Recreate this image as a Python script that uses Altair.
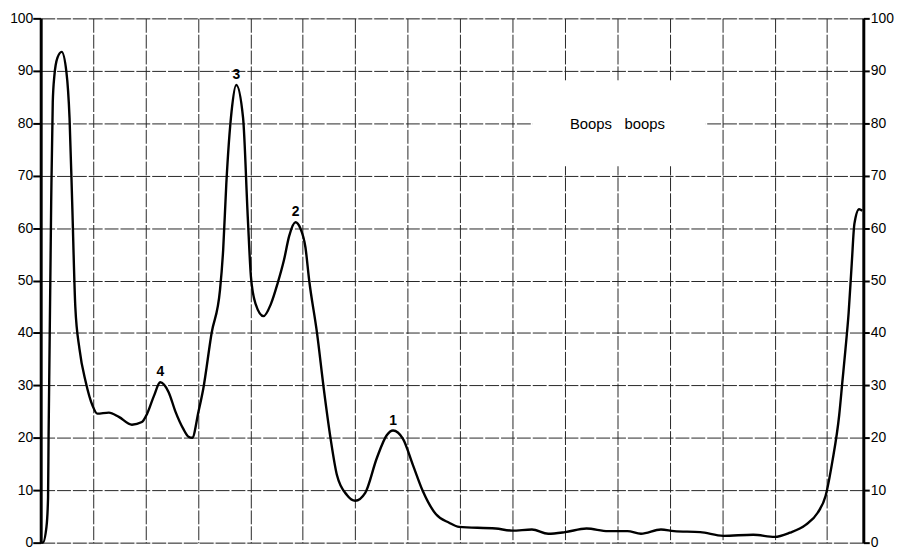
import altair as alt
import pandas as pd

# scan position (grid units) and density (%)
pos = [0.00, 0.04, 0.11, 0.14, 0.15, 0.20, 0.23, 0.26, 0.32, 0.40, 0.49, 0.55, 0.60, 0.66,
       0.74, 0.86, 0.99, 1.08, 1.30, 1.49, 1.74, 1.93, 2.03, 2.16, 2.28, 2.44, 2.57, 2.72,
       2.82, 2.89, 3.01, 3.10, 3.26, 3.42, 3.48, 3.54, 3.64, 3.73, 3.86, 3.95, 4.01, 4.10,
       4.25, 4.39, 4.52, 4.64, 4.74, 4.86, 4.95, 5.05, 5.12, 5.27, 5.40, 5.53, 5.65, 5.84,
       6.00, 6.19, 6.41, 6.60, 6.72, 6.91, 7.10, 7.29, 7.54, 7.79, 7.98, 8.68, 8.99, 9.37,
       9.68, 10.00, 10.41, 10.82, 11.19, 11.45, 11.83, 12.08, 12.58, 13.02, 13.59, 14.00,
       14.29, 14.59, 14.82, 14.97, 15.10, 15.23, 15.29, 15.35, 15.41, 15.47, 15.52, 15.61,
       15.67]
dens = [0, 0, 3, 8.5, 20, 65, 84, 89, 92.5, 93.6, 89.8, 81, 65, 45,
        36.9, 30.6, 26.1, 24.6, 24.8, 24.0, 22.5, 23.0, 24.6, 28, 30.6, 28.7, 25, 21.7,
        20.2, 20, 25, 29.3, 40, 48.2, 55.8, 68.4, 82.2, 87.3, 81, 62, 50.7, 45.5,
        43.2, 45.5, 49.5, 53.9, 58.5, 61.1, 60, 56.3, 50.1, 40, 29.3, 19.8, 12.9, 9.1,
        8.0, 9.5, 16.1, 20.5, 21.4, 19.8, 14.8, 9.8, 5.4, 3.8, 3.0, 2.7, 2.3, 2.5,
        1.7, 2.0, 2.7, 2.2, 2.2, 1.7, 2.5, 2.2, 2.0, 1.3, 1.5, 1.1,
        1.9, 3.4, 5.7, 8.9, 15.5, 24.3, 30.6, 36.9, 43.8, 53.3, 60.8, 63.6,
        63.3]

peak_labels = ["4", "3", "2", "1"]
peak_pos = [2.28, 3.73, 4.86, 6.72]
peak_val = [30.6, 87.3, 61.1, 21.4]

title_text = "Boops\u00a0\u00a0\u00a0boops"
y_ticks = [0, 10, 20, 30, 40, 50, 60, 70, 80, 90, 100]
x_grid = list(range(1, 16))

df = pd.DataFrame({"pos": pos, "dens": dens})
peaks = pd.DataFrame({"label": peak_labels, "pos": peak_pos, "dens": peak_val})
box = pd.DataFrame({"pos": [9.38], "pos2": [12.68], "dens": [87.9], "dens2": [71.8]})
title_df = pd.DataFrame({"t": [title_text], "pos": [11.0], "dens": [79.8]})

FONT = "Liberation Sans"
xs = alt.Scale(domain=[0, 15.69], nice=False, zero=False)
ys = alt.Scale(domain=[0, 100], nice=False)

GRID_COLOR = "#262626"
GRID_DASH = [14, 2]

xaxis = alt.Axis(values=x_grid, labels=False, ticks=False, domain=False, grid=True,
                 gridColor=GRID_COLOR, gridDash=GRID_DASH, gridWidth=1, title=None)

left_axis = alt.Axis(values=y_ticks, orient="left", grid=True, gridColor=GRID_COLOR,
                     gridDash=GRID_DASH, gridWidth=1, domain=True, domainColor="black",
                     domainWidth=3, tickColor="black", tickSize=8, tickWidth=2,
                     labelFont=FONT, labelFontSize=14, labelColor="black",
                     labelPadding=0, title=None)
right_axis = alt.Axis(values=y_ticks, orient="right", grid=False, domain=True,
                      domainColor="black", domainWidth=3, tickColor="black",
                      tickSize=6, tickWidth=2, labelFont=FONT, labelFontSize=14,
                      labelColor="black", labelPadding=1, title=None)

X = alt.X("pos:Q", scale=xs, axis=xaxis)
Y = alt.Y("dens:Q", scale=ys, axis=left_axis)

line = alt.Chart(df).mark_line(color="black", strokeWidth=2.4, interpolate="monotone").encode(
    x=X, y=Y,
)

rect = alt.Chart(box).mark_rect(color="white").encode(
    x=X, x2="pos2:Q", y=Y, y2="dens2:Q",
)

title_mark = alt.Chart(title_df).mark_text(font=FONT, fontSize=15, color="black").encode(
    x=X, y=Y, text="t:N",
)

peak_text = alt.Chart(peaks).mark_text(font=FONT, fontSize=14, fontWeight="bold",
                                       color="black", dy=-10).encode(
    x=X, y=Y, text="label:N",
)

right = alt.Chart(df).mark_line(opacity=0).encode(
    x=X,
    y=alt.Y("dens:Q", scale=ys, axis=right_axis),
)

base = alt.layer(rect, line, title_mark, peak_text)
chart = alt.layer(base, right).resolve_scale(y="independent").properties(
    width=830, height=529,
    autosize=alt.AutoSizeParams(type="none"),
    padding={"left": 33, "top": 8, "right": 34, "bottom": 10},
).configure_view(stroke=None).configure(background="white")

chart.save("out.html", embed_options={"renderer": "svg", "actions": False})
